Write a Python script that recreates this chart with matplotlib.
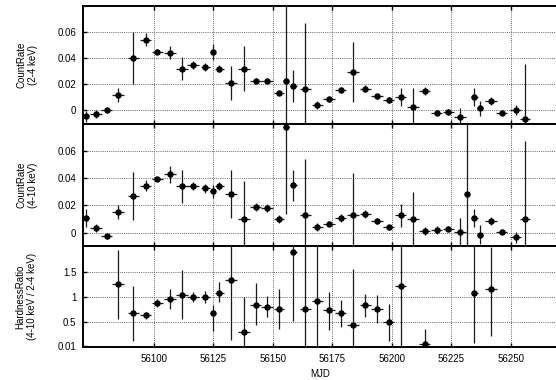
import numpy as np
import matplotlib
matplotlib.use("Agg")
import matplotlib.pyplot as plt

plt.rcParams['font.family'] = ['Liberation Sans', 'DejaVu Sans']
plt.rcParams['font.size'] = 7

nan = np.nan

mjd = [56071.3, 56075.6, 56080.1, 56084.8, 56091.3, 56096.5, 56101.4, 56106.7, 56111.7, 56116.4,
       56121.6, 56124.6, 56127.5, 56132.4, 56137.8, 56142.7, 56147.5, 56152.7, 56155.6, 56158.6,
       56163.6, 56168.7, 56173.6, 56178.5, 56183.7, 56188.8, 56193.7, 56198.6, 56203.7, 56208.8,
       56213.8, 56218.8, 56223.7, 56228.7, 56231.4, 56234.7, 56237.2, 56241.7, 56246.2, 56252.0,
       56255.9]
mjd_err = [1.3, 2.4, 2.4, 2.4, 2.4, 2.2, 2.4, 2.4, 2.4, 2.4,
           2.0, 1.0, 2.0, 2.4, 2.4, 2.4, 2.4, 2.1, 1.2, 1.5,
           2.4, 2.4, 2.4, 2.4, 2.4, 2.4, 2.4, 2.4, 2.4, 2.4,
           2.4, 2.4, 2.4, 2.4, 1.0, 1.5, 1.3, 2.4, 2.4, 2.4,
           2.0]

# 2-4 keV
rate_soft = [-0.0045, -0.003, 0.0, 0.0118, 0.040, 0.054, 0.045, 0.044, 0.032, 0.035,
             0.033, 0.0446, 0.032, 0.021, 0.032, 0.0226, 0.0228, 0.0136, 0.0223, 0.0185,
             0.0167, 0.0041, 0.0087, 0.0156, 0.0295, 0.0167, 0.0108, 0.008, 0.0105, 0.0023,
             0.0151, -0.0018, -0.0013, -0.0049, nan, 0.010, 0.0015, 0.0074, -0.0018, 0.0003,
             -0.0062]
err_soft = [0.004, 0.003, 0.002, 0.005, 0.020, 0.005, 0.002, 0.005, 0.009, 0.003,
            0.003, 0.006, 0.003, 0.0128, 0.017, 0.002, 0.002, 0.002, 0.07, 0.012,
            0.05, 0.003, 0.002, 0.002, 0.023, 0.003, 0.002, 0.002, 0.007, 0.015,
            0.003, 0.002, 0.002, 0.007, nan, 0.007, 0.006, 0.003, 0.002, 0.004,
            0.042]

# 4-10 keV
rate_hard = [0.0105, 0.0032, -0.0027, 0.0151, 0.0266, 0.0344, 0.0395, 0.0427, 0.0339, 0.0344,
             0.0324, 0.0302, 0.0344, 0.0283, 0.010, 0.019, 0.0183, 0.010, 0.0778, 0.0346,
             0.0127, 0.0039, 0.0066, 0.0105, 0.0127, 0.0137, 0.0085, 0.0039, 0.0127, 0.010,
             0.0012, 0.0017, 0.0029, 0.0007, 0.028, 0.0107, -0.0015, 0.0083, 0.0007, -0.0034,
             0.0102]
err_hard = [0.0065, 0.003, 0.002, 0.005, 0.0175, 0.004, 0.002, 0.006, 0.012, 0.003,
            0.003, 0.005, 0.003, 0.0175, 0.028, 0.003, 0.003, 0.003, 0.064, 0.0116,
            0.041, 0.003, 0.002, 0.003, 0.031, 0.003, 0.002, 0.002, 0.0085, 0.020,
            0.003, 0.003, 0.002, 0.010, 0.06, 0.0065, 0.007, 0.003, 0.002, 0.004,
            0.057]

# hardness ratio (4-10 keV / 2-4 keV)
ratio = [nan, nan, nan, 1.25, 0.67, 0.635, 0.88, 0.966, 1.047, 0.993,
         0.993, 0.68, 1.07, 1.35, 0.29, 0.845, 0.80, 0.75, nan, 1.90,
         0.75, 0.926, 0.73, 0.68, 0.43, 0.845, 0.76, 0.49, 1.22, nan,
         0.054, nan, nan, nan, nan, 1.07, nan, 1.16, nan, nan,
         nan]
ratio_lo = [nan, nan, nan, 0.70, 0.55, 0.07, 0.08, 0.2, 0.5, 0.1,
            0.12, 0.36, 0.17, 1.22, 0.3, 0.41, 0.21, 0.40, nan, 1.38,
            0.75, 0.95, 0.39, 0.28, 0.45, 0.24, 0.29, 0.38, 1.2, nan,
            0.05, nan, nan, nan, nan, 1.0, nan, 0.95, nan, nan,
            nan]
ratio_hi = [nan, nan, nan, 0.70, 0.55, 0.07, 0.08, 0.2, 0.5, 0.1,
            0.12, 0.16, 0.22, 0.7, 0.71, 0.43, 0.21, 0.40, nan, 0.2,
            1.3, 1.1, 0.37, 0.25, 1.13, 0.22, 0.27, 0.37, 0.8, nan,
            0.29, nan, nan, nan, nan, 0.95, nan, 0.85, nan, nan,
            nan]

rate_ticks = [0, 0.02, 0.04, 0.06]
rate_labels = ['0', '0.02', '0.04', '0.06']
ratio_ticks = [0.01, 0.5, 1, 1.5]
ratio_labels = ['0.01', '0.5', '1', '1.5']
mjd_ticks = [56100, 56125, 56150, 56175, 56200, 56225, 56250]

fig = plt.figure(figsize=(5.56, 3.80), dpi=100)
ax1 = fig.add_axes([0.1487, 0.675, 0.8556, 0.310])
ax2 = fig.add_axes([0.1487, 0.352, 0.8556, 0.323])
ax3 = fig.add_axes([0.1487, 0.088, 0.8556, 0.264])


def style(ax):
    ax.set_xlim(56070, 56270)
    ax.set_xticks(mjd_ticks)
    ax.grid(True, ls=(0, (1, 1.2)), color='#666666', lw=0.7)
    ax.set_axisbelow(True)
    for s in ax.spines.values():
        s.set_linewidth(1.4)
    ax.spines['right'].set_visible(False)
    ax.tick_params(direction='in', length=3, width=1, top=True, bottom=True, pad=4.5)


ekw = dict(fmt='o', color='black', ecolor='#1a1a1a', ms=3.6, elinewidth=0.9, capsize=0)

ax1.errorbar(mjd, rate_soft, xerr=mjd_err, yerr=err_soft, **ekw)
ax2.errorbar(mjd, rate_hard, xerr=mjd_err, yerr=err_hard, **ekw)
ax3.errorbar(mjd, ratio, xerr=mjd_err, yerr=[ratio_lo, ratio_hi], **ekw)

for ax in (ax1, ax2):
    style(ax)
    ax.set_ylim(-0.01, 0.08)
    ax.set_yticks(rate_ticks)
    ax.set_yticklabels(rate_labels)
    ax.set_xticklabels([])

style(ax3)
ax3.set_ylim(0.0, 2.02)
ax3.set_yticks(ratio_ticks)
ax3.set_yticklabels(ratio_labels)
ax3.set_xticklabels([str(t) for t in mjd_ticks])
ax3.tick_params(axis='x', pad=5)
ax3.set_xlabel('MJD', labelpad=4)

ax1.set_ylabel('CountRate\n(2-4 keV)')
ax2.set_ylabel('CountRate\n(4-10 keV)')
ax3.set_ylabel('HardnessRatio\n(4-10 keV / 2-4 keV)')
ax1.yaxis.set_label_coords(-0.094, 0.5)
ax2.yaxis.set_label_coords(-0.094, 0.5)
ax3.yaxis.set_label_coords(-0.097, 0.5)

fig.savefig('out.png', dpi=100)
